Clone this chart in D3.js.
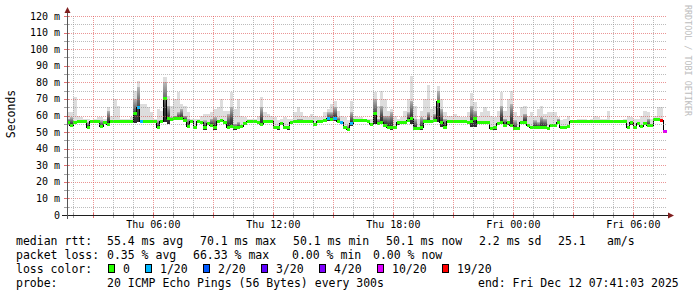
<!DOCTYPE html>
<html>
<head>
<meta charset="utf-8">
<script src="https://cdn.jsdelivr.net/npm/d3@7"></script>
<style>
  html, body { margin: 0; padding: 0; background: #fff; }
  svg { display: block; font-family: "DejaVu Sans Mono", monospace; }
</style>
</head>
<body>
<div id="chart"></div>
<script>
// ── Data: 10-minute steps starting Thu Dec 11 2025 01:40 (ms) ───────────
const median = [
  56, 54, 56, 56.3, 56.3, 56.3, 53, 56.3, 56.3, 56.3,
  53.5, 56, 54.5, 56.3, 56.3, 56.3, 56.3, 56.3, 56.3, 56.3,
  61, 64.7, 56.5, 56.3, 56.3, 56.3, 56.3, 53, 56.3, 70.1,
  58, 57.5, 58, 58, 58, 57, 53.5, 56.5, 53, 56.3,
  56, 52.5, 55, 54, 52.5, 56.5, 56.8, 56, 53, 53.5,
  52.5, 53, 53.5, 55, 56.3, 56.3, 56.3, 56, 54.5, 56.3,
  56.3, 56.3, 53, 52.5, 55, 53, 52.5, 56, 56.3, 56.3,
  56.3, 56.3, 56.3, 56.3, 54.5, 56.3, 56.3, 57, 58, 57.5,
  58, 56.3, 56, 53, 51.5, 55, 57, 57, 57, 57,
  56.3, 54.5, 61, 55, 56, 54, 53, 52.5, 53, 55.5,
  56, 56, 57, 58.3, 52, 52, 52.5, 56.3, 56.5, 56.5,
  57, 68.3, 56, 53, 56.3, 56.3, 56.3, 56.3, 56.3, 56.3,
  56, 56.5, 58, 56, 56, 56, 56, 52, 52.5, 55,
  56, 54, 55.5, 54, 52, 52, 56, 56, 54, 53,
  53, 53, 53, 53, 52, 54, 54, 56, 53, 53,
  53.5, 56.3, 56.3, 56.3, 56.3, 56.3, 56.3, 56.3, 56.3, 56.3,
  56.3, 56.3, 56.3, 56.3, 56.3, 56.3, 56.3, 56.3, 53, 55.5,
  53, 55, 53.5, 55, 54, 54, 57.5, 57.5, 57, 50.1
];

// highest ping of each step (outer smoke)
const pingMax = [
  62, 62, 71, 60, 59, 58, 58, 57, 58, 59,
  59, 58, 65, 60, 70, 66, 58, 58, 58, 59,
  75, 81, 67, 67, 65, 62, 58, 64, 63, 83,
  72, 66, 70, 74, 67, 66, 62, 58, 58, 58,
  60, 61, 61, 62, 64, 65, 70, 63, 63, 74,
  64, 70, 60, 59, 58, 58, 58, 60, 71, 62,
  61, 60, 59, 57, 58, 59, 58, 58, 62, 65,
  62, 60, 59, 61, 60, 59, 59, 62, 64, 67,
  69, 63, 60, 59, 57, 69, 60, 59, 59, 58,
  58, 58, 74, 66, 75, 70, 63, 64, 60, 58,
  59, 62.5, 70, 84, 66, 58, 62.6, 70, 78.4, 64,
  66, 78, 70, 62, 60, 60, 61, 60, 59, 59,
  62, 73.4, 68, 60, 62, 65, 63, 60, 59, 63,
  74, 63, 70, 75, 62, 60, 65, 66, 60, 62,
  60, 64, 66, 61, 62, 62, 62, 59, 57, 58,
  60, 57, 57, 58, 58, 58, 57, 58, 60, 59,
  58, 58, 63, 57, 57, 57, 57, 58, 60, 59,
  58, 58, 60, 62.6, 62, 58, 60, 65, 65, 51
];

// upper edge of the dense (dark) part of the smoke
const pingHigh = [
  58, 59, 56, 56.3, 56.3, 56.3, 56, 56.3, 56.3, 56.3,
  57, 56, 63, 56.3, 56.3, 56.3, 56.3, 56.3, 56.3, 56.3,
  70, 77, 57, 56.3, 56.3, 56.3, 56.3, 57, 56.3, 80,
  66, 59, 60, 62, 64, 60, 58, 56.5, 53, 56.3,
  56, 57, 55, 58, 59, 56.5, 56.8, 56, 61, 65,
  55, 56, 53.5, 55, 56.3, 56.3, 56.3, 56, 65, 56.3,
  56.3, 56.3, 53, 52.5, 55, 53, 52.5, 56, 56.3, 58,
  58, 56.3, 56.3, 56.3, 54.5, 56.3, 56.3, 57, 62, 62,
  65, 59, 56, 53, 54, 62, 57, 57, 57, 57,
  56.3, 54.5, 70, 58, 66, 60, 60, 62, 53, 55.5,
  56, 56, 62, 69, 58, 52, 59, 58, 62, 56.5,
  61, 75, 64, 58, 56.3, 56.3, 56.3, 56.3, 56.3, 56.3,
  56, 66, 63, 56, 56, 56, 56, 52, 52.5, 55,
  66, 58, 55.5, 67, 57, 52, 56, 61, 54, 53,
  57, 56, 59, 58, 52, 54, 54, 58, 53, 53,
  53.5, 56.3, 56.3, 56.3, 56.3, 56.3, 56.3, 56.3, 56.3, 56.3,
  56.3, 56.3, 56.3, 56.3, 56.3, 56.3, 56.3, 56.3, 53, 55.5,
  53, 55, 53.5, 55, 58, 54, 57.5, 57.5, 58, 50.1
];

// lowest ping of each step
const pingMin = [
  55, 53, 55, 55.5, 55.5, 55.5, 52, 55.5, 55.5, 55.5,
  52.5, 55, 53.5, 55.5, 55.5, 55.5, 55.5, 55.5, 55.5, 55.5,
  55.5, 56, 55.5, 55.5, 55.5, 55.5, 55.5, 52, 55.5, 56,
  55, 56.5, 57, 57, 57, 56, 52.5, 55.5, 52, 55.5,
  55, 51.5, 54, 53, 51.5, 55.5, 56, 55, 52, 52.5,
  51.5, 52, 52.5, 54, 55.5, 55.5, 55.5, 55, 53.5, 55.5,
  55.5, 55.5, 52, 51.5, 54, 52, 51.5, 55, 55.5, 55.5,
  55.5, 55.5, 55.5, 55.5, 53.5, 55.5, 55.5, 56, 56.5, 56.5,
  56.5, 55.5, 55, 52, 50.5, 53.5, 56, 56, 56, 56,
  55.5, 53.5, 55, 54, 55, 53, 52, 51.5, 52, 54.5,
  55, 55, 56, 55, 51, 51, 51.5, 55.5, 55.5, 55.5,
  56, 56, 53, 52, 55.5, 55.5, 55.5, 55.5, 55.5, 55.5,
  55, 53, 53, 55, 55, 55, 55, 51, 51.5, 54,
  55, 53, 54.5, 53, 51, 51, 55, 55, 53, 52,
  52, 52, 52, 52, 51, 53, 53, 55, 52, 52,
  52.5, 55.5, 55.5, 55.5, 55.5, 55.5, 55.5, 55.5, 55.5, 55.5,
  55.5, 55.5, 55.5, 55.5, 55.5, 55.5, 55.5, 55.5, 52, 54.5,
  52, 54, 52.5, 54, 53, 53, 56.5, 56.5, 56, 49.5
];

// lost pings out of 20 per step
const lost = [
  0, 0, 0, 0, 0, 0, 0, 0, 0, 0,
  0, 0, 0, 0, 0, 0, 0, 0, 0, 0,
  0, 1, 1, 0, 0, 0, 0, 0, 0, 0,
  0, 0, 0, 0, 0, 0, 0, 0, 0, 0,
  0, 0, 0, 0, 0, 0, 0, 0, 0, 0,
  0, 0, 0, 0, 0, 0, 0, 0, 0, 0,
  0, 0, 0, 0, 0, 0, 0, 0, 0, 0,
  0, 0, 0, 0, 0, 0, 0, 0, 1, 0,
  1, 0, 1, 0, 0, 1, 0, 0, 0, 0,
  0, 0, 0, 0, 0, 0, 0, 0, 0, 0,
  0, 0, 0, 0, 0, 0, 0, 0, 0, 0,
  0, 0, 0, 0, 0, 0, 0, 0, 0, 0,
  0, 0, 0, 0, 0, 0, 0, 0, 0, 0,
  0, 0, 0, 0, 0, 0, 0, 0, 0, 0,
  0, 0, 0, 0, 0, 0, 0, 0, 0, 0,
  0, 0, 0, 0, 0, 0, 0, 0, 0, 0,
  0, 0, 0, 0, 0, 0, 0, 0, 0, 0,
  0, 0, 0, 0, 0, 0, 0, 0, 19, 13
];

const yTicks      = [0, 10, 20, 30, 40, 50, 60, 70, 80, 90, 100, 110, 120];
const lossLevels  = [1, 2, 3, 4, 10, 19];
const lossColors  = ["#26ff00", "#00b8ff", "#0059ff", "#5e00ff", "#7e00ff", "#dd00ff", "#ff0000"];
const lossLabels  = ["0", "1/20", "2/20", "3/20", "4/20", "10/20", "19/20"];

const rttText   = ["55.4 ms avg", "70.1 ms max", "50.1 ms min", "50.1 ms now", "2.2 ms sd", "25.1", "am/s"];
const lossText  = ["0.35 % avg", "66.33 % max", "0.00 % min", "0.00 % now"];
const probeText = "20 ICMP Echo Pings (56 Bytes) every 300s";
const endText   = "end: Fri Dec 12 07:41:03 2025";

// ── Layout ─────────────────────────────────────────────────────────────
const W = 697, H = 297;
const plot = { left: 67, right: 667, top: 16, bottom: 215 };
const stepMs = 10 * 60 * 1000;
const t0     = new Date(2025, 11, 11, 1, 40, 0);
const tStart = new Date(2025, 11, 11, 1, 41, 3);
const tEnd   = new Date(2025, 11, 12, 7, 41, 3);

const x = d3.scaleTime().domain([tStart, tEnd]).range([plot.left, plot.right]);
const y = d3.scaleLinear().domain([0, 120]).range([plot.bottom, plot.top]);
const lossColor = d3.scaleThreshold().domain(lossLevels).range(lossColors);

const rows = median.map((m, i) => ({
  t:  new Date(+t0 + i * stepMs),
  t1: new Date(+t0 + (i + 1) * stepMs),
  med: m, max: pingMax[i], high: pingHigh[i], min: pingMin[i], loss: lost[i]
}));

const svg = d3.select("#chart").append("svg")
  .attr("width", W).attr("height", H)
  .style("background", "#fff");

const defs = svg.append("defs");
defs.append("clipPath").attr("id", "plot-clip")
  .append("rect")
    .attr("x", plot.left).attr("y", plot.top)
    .attr("width", plot.right - plot.left)
    .attr("height", plot.bottom - plot.top);

const core = defs.append("linearGradient").attr("id", "smoke-core")
  .attr("x1", 0).attr("y1", 0).attr("x2", 0).attr("y2", 1);
core.append("stop").attr("offset", "0%").attr("stop-color", "#b8b8b8");
core.append("stop").attr("offset", "65%").attr("stop-color", "#3c3c3c");
core.append("stop").attr("offset", "100%").attr("stop-color", "#2a2a2a");

const px = v => Math.round(v) + 0.5;

// ── Smoke + median ─────────────────────────────────────────────────────
const data = svg.append("g").attr("clip-path", "url(#plot-clip)");

data.append("g").selectAll("rect").data(rows).join("rect")
  .attr("x", d => x(d.t)).attr("width", d => x(d.t1) - x(d.t))
  .attr("y", d => y(d.max)).attr("height", d => y(d.min) - y(d.max))
  .attr("fill", "#dddddd")
  .attr("shape-rendering", "crispEdges");

data.append("g").selectAll("rect").data(rows).join("rect")
  .attr("x", d => x(d.t)).attr("width", d => x(d.t1) - x(d.t))
  .attr("y", d => y(d.high)).attr("height", d => Math.max(0, y(d.min) - y(d.high)))
  .attr("fill", "url(#smoke-core)")
  .attr("shape-rendering", "crispEdges");

data.append("path")
  .datum(rows)
  .attr("fill", "none")
  .attr("stroke", "#000")
  .attr("stroke-width", 1)
  .attr("shape-rendering", "crispEdges")
  .attr("d", d3.line().x(d => x(d.t)).y(d => y(d.med)).curve(d3.curveStepAfter));

data.append("g").selectAll("rect").data(rows).join("rect")
  .attr("x", d => x(d.t)).attr("width", d => x(d.t1) - x(d.t))
  .attr("y", d => y(d.med) - 1.5).attr("height", 3)
  .attr("fill", d => lossColor(d.loss))
  .attr("shape-rendering", "crispEdges");

// ── Grid (rrdtool paints it over the graph) ────────────────────────────
const grid = svg.append("g").attr("stroke-dasharray", "1,1").attr("shape-rendering", "crispEdges");
const minorCol = "rgba(143,143,143,0.6)";
const majorCol = "rgba(222,79,79,0.6)";

d3.range(5, 120, 10).forEach(v => {
  grid.append("line")
    .attr("x1", plot.left).attr("x2", plot.right)
    .attr("y1", px(y(v))).attr("y2", px(y(v)))
    .attr("stroke", minorCol);
});
yTicks.filter(v => v > 0).forEach(v => {
  grid.append("line")
    .attr("x1", plot.left).attr("x2", plot.right)
    .attr("y1", px(y(v))).attr("y2", px(y(v)))
    .attr("stroke", majorCol);
});

const hours = d3.timeHour.range(tStart, tEnd);
hours.forEach(h => {
  const major = h.getHours() % 3 === 0;
  grid.append("line")
    .attr("x1", px(x(h))).attr("x2", px(x(h)))
    .attr("y1", plot.top).attr("y2", plot.bottom)
    .attr("stroke", major ? majorCol : minorCol);
});

// small tick marks on the axes
const ticks = svg.append("g").attr("shape-rendering", "crispEdges");
hours.forEach(h => {
  const major = h.getHours() % 3 === 0;
  ticks.append("line")
    .attr("x1", px(x(h))).attr("x2", px(x(h)))
    .attr("y1", plot.bottom - 2).attr("y2", plot.bottom + 3)
    .attr("stroke", major ? "rgba(222,79,79,0.8)" : "rgba(143,143,143,0.8)");
});
d3.range(5, 125, 5).forEach(v => {
  const major = v % 10 === 0;
  ticks.append("line")
    .attr("x1", plot.left - 3).attr("x2", plot.left + 2)
    .attr("y1", px(y(v))).attr("y2", px(y(v)))
    .attr("stroke", major ? "rgba(222,79,79,0.8)" : "rgba(143,143,143,0.8)");
});

// ── Axes + arrows ──────────────────────────────────────────────────────
svg.append("line")
  .attr("x1", plot.left - 5).attr("x2", plot.right + 2)
  .attr("y1", plot.bottom + 0.5).attr("y2", plot.bottom + 0.5)
  .attr("stroke", "#1f1f1f").attr("shape-rendering", "crispEdges");
svg.append("line")
  .attr("x1", plot.left + 0.5).attr("x2", plot.left + 0.5)
  .attr("y1", plot.bottom + 4).attr("y2", plot.top - 3)
  .attr("stroke", "#555").attr("shape-rendering", "crispEdges");

svg.append("path")
  .attr("d", `M${plot.right + 1},${plot.bottom - 2.5} L${plot.right + 7},${plot.bottom + 0.5} L${plot.right + 1},${plot.bottom + 3.5}Z`)
  .attr("fill", "#801f1f");
svg.append("path")
  .attr("d", `M${plot.left - 2.5},${plot.top - 3} L${plot.left + 0.5},${plot.top - 9} L${plot.left + 3.5},${plot.top - 3}Z`)
  .attr("fill", "#801f1f");

// ── Axis labels ────────────────────────────────────────────────────────
svg.append("g").selectAll("text").data(yTicks).join("text")
  .attr("x", 60).attr("y", d => y(d) + 3.5)
  .attr("text-anchor", "end")
  .attr("font-size", "10px").attr("fill", "#000")
  .text(d => d === 0 ? "0" : `${d} m`);

const fmtHour = d3.timeFormat("%a %H:%M");
svg.append("g").selectAll("text").data(hours.filter(h => h.getHours() % 6 === 0)).join("text")
  .attr("x", d => x(d)).attr("y", 227.5)
  .attr("text-anchor", "middle")
  .attr("font-size", "10px").attr("fill", "#000")
  .text(d => fmtHour(d));

svg.append("text")
  .attr("transform", "translate(15,114) rotate(-90)")
  .attr("text-anchor", "middle")
  .attr("font-size", "11.5px").attr("fill", "#000")
  .text("Seconds");

svg.append("text")
  .attr("transform", "translate(685,5) rotate(90)")
  .attr("font-size", "8.4px").attr("fill", "#bdbdbd")
  .text("RRDTOOL / TOBI OETIKER");

// ── Legend ─────────────────────────────────────────────────────────────
const legend = svg.append("g").attr("font-size", "11.5px").attr("fill", "#000")
  .style("white-space", "pre");
const line1 = 245, line2 = 259, line3 = 273, line4 = 287;
const rttX  = [107, 200, 293, 386, 479, 558, 607];
const lossX = [107, 193, 292, 373];

legend.append("text").attr("x", 16).attr("y", line1).text("median rtt:");
rttText.forEach((s, i) => legend.append("text").attr("x", rttX[i]).attr("y", line1).text(s));

legend.append("text").attr("x", 16).attr("y", line2).text("packet loss:");
lossText.forEach((s, i) => legend.append("text").attr("x", lossX[i]).attr("y", line2).text(s));

legend.append("text").attr("x", 16).attr("y", line3).text("loss color:");
let bx = 108.5;
lossLabels.forEach((s, i) => {
  legend.append("rect")
    .attr("x", bx).attr("y", line3 - 8.5)
    .attr("width", 6).attr("height", 8)
    .attr("fill", lossColors[i]).attr("stroke", "#000").attr("stroke-width", 1)
    .attr("shape-rendering", "crispEdges");
  legend.append("text").attr("x", bx + 14.5).attr("y", line3).text(s);
  bx += 14.5 + s.length * 7 + 15.5;
});

legend.append("text").attr("x", 16).attr("y", line4).text("probe:");
legend.append("text").attr("x", 107).attr("y", line4).text(probeText);
legend.append("text").attr("x", 478).attr("y", line4).text(endText);
</script>
</body>
</html>
